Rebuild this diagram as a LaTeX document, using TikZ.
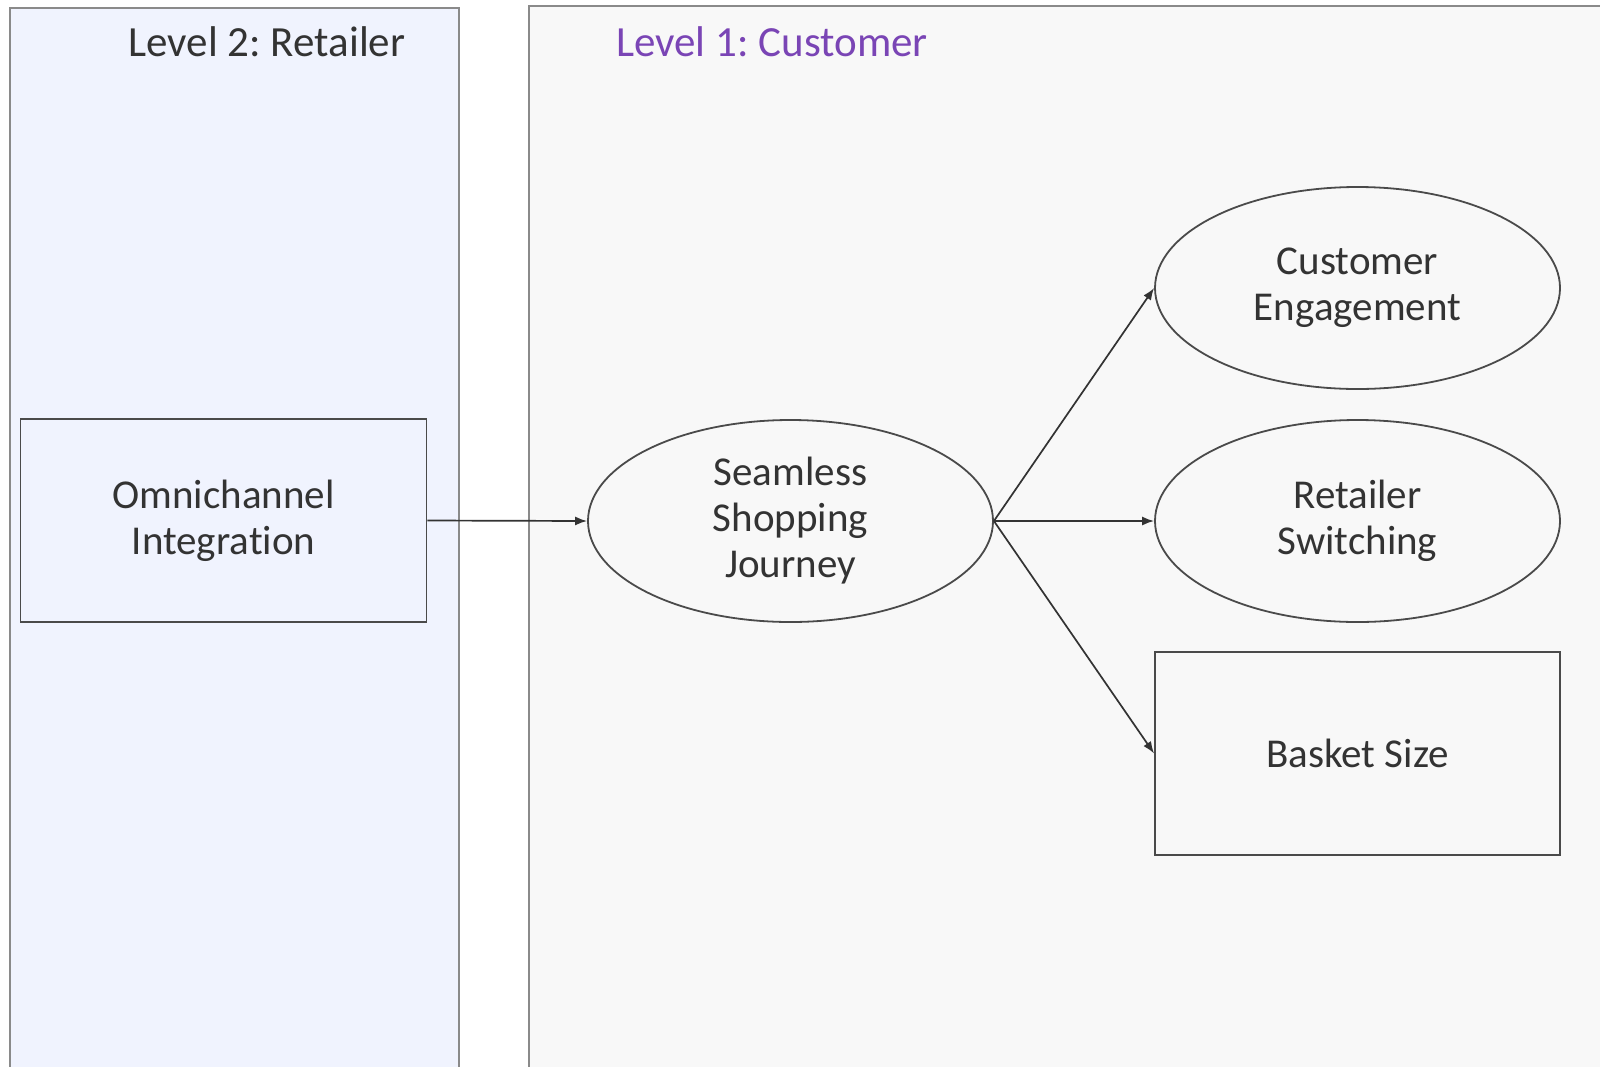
\documentclass[tikz,border=0pt]{standalone}
\usepackage{fontspec}
\setmainfont{Carlito}[Ligatures={NoCommon}]
\usetikzlibrary{shapes.geometric,arrows.meta}
\definecolor{leftfill}{HTML}{F0F3FE}
\definecolor{rightfill}{HTML}{F8F8F8}
\definecolor{panelline}{HTML}{8A8A8A}
\definecolor{nodeline}{HTML}{4A4A4A}
\definecolor{txt}{HTML}{333333}
\definecolor{purp}{HTML}{7A45B5}
\tikzset{
  panel/.style={draw=panelline, line width=1.6pt},
  boxnode/.style={draw=nodeline, line width=1.8pt, minimum width=406pt, minimum height=203pt, inner sep=0pt, align=center, text=txt, font=\fontsize{41}{46}\selectfont},
  ellnode/.style={ellipse, draw=nodeline, line width=1.8pt, minimum width=405pt, minimum height=202pt, inner sep=0pt, align=center, text=txt, font=\fontsize{41}{46}\selectfont},
  conn/.style={draw=txt, line width=1.7pt, -{Latex[length=12pt,width=9pt]}},
  title/.style={font=\fontsize{43}{50}\selectfont}
}
\begin{document}
\frenchspacing
\begin{tikzpicture}[x=1pt,y=-1pt]
\useasboundingbox (0,0) rectangle (1600,1066);
\clip (0,0) rectangle (1600,1066);
\fill[white] (0,0) rectangle (1600,1066);
\draw[panel, fill=leftfill] (10,8) rectangle (459,1090);
\draw[panel, fill=rightfill] (529,6) rectangle (1620,1090);
\node[title, text=txt] (t2) at (267,42) {Level 2: Retailer};
\node[title, text=purp] (t1) at (772,42) {Level 1: Customer};
\node[boxnode, fill=leftfill] (omni) at (223.5,520.5) {Omnichannel\\Integration};
\node[ellnode, fill=rightfill] (seam) at (790.5,521) {Seamless\\Shopping\\Journey};
\node[ellnode, fill=rightfill] (eng) at (1357.5,288) {Customer\\Engagement};
\node[ellnode, fill=rightfill] (sw) at (1357.5,521) {Retailer\\Switching};
\node[boxnode, fill=rightfill, minimum width=405pt, minimum height=203pt] (bask) at (1357.5,753.5) {Basket Size};
\draw[conn] (omni.east) -- (seam.west);
\draw[conn] (seam.east) -- (eng.west);
\draw[conn] (seam.east) -- (sw.west);
\draw[conn] (seam.east) -- (bask.west);
\end{tikzpicture}
\end{document}
